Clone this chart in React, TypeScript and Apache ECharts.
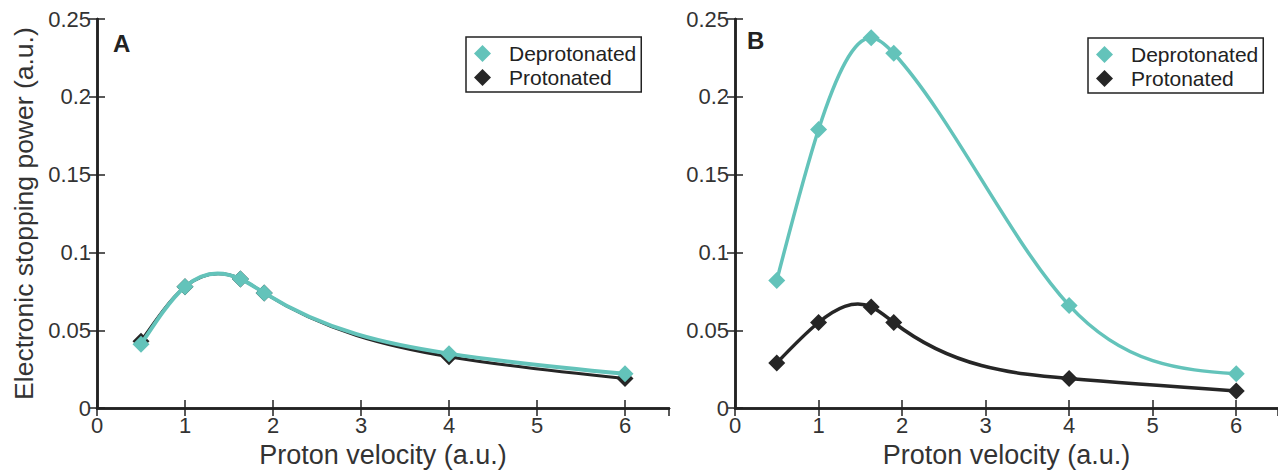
import React, { useEffect, useRef } from "react";
import * as echarts from "echarts";

const velocities = [0.5, 1, 1.63, 1.9, 4, 6];
const aDeprotonated = [0.041, 0.078, 0.083, 0.074, 0.035, 0.022];
const aProtonated = [0.043, 0.078, 0.083, 0.074, 0.033, 0.019];
const bDeprotonated = [0.082, 0.179, 0.238, 0.228, 0.066, 0.022];
const bProtonated = [0.029, 0.055, 0.065, 0.055, 0.019, 0.011];
const seriesNames = ["Deprotonated", "Protonated"];
const panelLabels = ["A", "B"];

const TEAL = "#63c3ba";
const DARK = "#262626";
const FONT = "'Liberation Sans', Arial, Helvetica, sans-serif";

const pairs = (ys: number[]) => velocities.map((x, i) => [x, ys[i]]);

// natural cubic spline second derivatives, used to draw the smooth curve through the data points
function splineM(xs: number[], ys: number[]) {
  const n = xs.length;
  const M = new Array(n).fill(0);
  if (n < 3) return M;
  const a: number[] = [], b: number[] = [], c: number[] = [], d: number[] = [];
  for (let i = 1; i < n - 1; i++) {
    const h0 = xs[i] - xs[i - 1], h1 = xs[i + 1] - xs[i];
    a.push(h0); b.push(2 * (h0 + h1)); c.push(h1);
    d.push(6 * ((ys[i + 1] - ys[i]) / h1 - (ys[i] - ys[i - 1]) / h0));
  }
  const m = b.length;
  for (let i = 1; i < m; i++) {
    const w = a[i] / b[i - 1];
    b[i] -= w * c[i - 1];
    d[i] -= w * d[i - 1];
  }
  const sol = new Array(m).fill(0);
  sol[m - 1] = d[m - 1] / b[m - 1];
  for (let i = m - 2; i >= 0; i--) sol[i] = (d[i] - c[i] * sol[i + 1]) / b[i];
  for (let i = 0; i < m; i++) M[i + 1] = sol[i];
  return M;
}

export default function App() {
  const ref = useRef<HTMLDivElement>(null);
  useEffect(() => {
    if (!ref.current) return;
    const chart = echarts.init(ref.current, null, { renderer: "svg" });

    const axisLine = { show: true, lineStyle: { color: "#222", width: 2.5 } };
    const axisTick = { show: true, inside: true, length: 8, lineStyle: { color: "#222", width: 1.5 } };
    const tickLabel = { fontSize: 22, color: "#333", fontFamily: FONT };

    const xAxes: any[] = [];
    const yAxes: any[] = [];
    [0, 1].forEach((g) => {
      xAxes.push({
        gridIndex: g, type: "value", min: 0, max: 6.5, interval: 1, position: "bottom",
        axisLine, axisTick, splitLine: { show: false },
        axisLabel: { ...tickLabel, margin: 6, showMaxLabel: false },
        name: "Proton velocity (a.u.)", nameLocation: "middle", nameGap: 32,
        nameTextStyle: { fontSize: 27, color: "#333", fontFamily: FONT },
      });
      xAxes.push({
        gridIndex: g, type: "value", min: 0, max: 6.5, interval: 1, position: "top",
        axisLine, axisTick, splitLine: { show: false }, axisLabel: { show: false },
      });
      yAxes.push({
        gridIndex: g, type: "value", min: 0, max: 0.25, interval: 0.05, position: "left",
        axisLine, axisTick, splitLine: { show: false },
        axisLabel: { ...tickLabel, margin: 6 },
        name: g === 0 ? "Electronic stopping power (a.u.)" : "",
        nameLocation: "middle", nameGap: 60,
        nameTextStyle: { fontSize: 26.5, color: "#333", fontFamily: FONT },
      });
      yAxes.push({
        gridIndex: g, type: "value", min: 0, max: 0.25, interval: 0.05, position: "right",
        axisLine, axisTick, splitLine: { show: false }, axisLabel: { show: false },
      });
    });

    const curve = (ys: number[], g: number, color: string, width: number, z: number) => {
      const M = splineM(velocities, ys);
      return {
        type: "custom", coordinateSystem: "cartesian2d", xAxisIndex: g * 2, yAxisIndex: g * 2,
        data: pairs(ys), encode: { x: 0, y: 1 }, silent: true, z, clip: true,
        renderItem: (params: any, api: any) => {
          const i = params.dataIndex;
          if (i >= velocities.length - 1) return { type: "group", children: [] };
          const x0 = velocities[i], x1 = velocities[i + 1];
          const y0 = ys[i], y1 = ys[i + 1];
          const h = x1 - x0;
          const s = (y1 - y0) / h;
          const d0 = s - (h * (2 * M[i] + M[i + 1])) / 6;
          const d1 = s + (h * (M[i] + 2 * M[i + 1])) / 6;
          const p0 = api.coord([x0, y0]);
          const p1 = api.coord([x1, y1]);
          const c1 = api.coord([x0 + h / 3, y0 + (h * d0) / 3]);
          const c2 = api.coord([x1 - h / 3, y1 - (h * d1) / 3]);
          return {
            type: "bezierCurve",
            shape: { x1: p0[0], y1: p0[1], x2: p1[0], y2: p1[1], cpx1: c1[0], cpy1: c1[1], cpx2: c2[0], cpy2: c2[1] },
            style: { stroke: color, lineWidth: width, fill: "none", lineCap: "round" },
          };
        },
      };
    };

    const markers = (name: string, ys: number[], g: number, color: string, z: number) => ({
      name, type: "scatter", xAxisIndex: g * 2, yAxisIndex: g * 2,
      data: pairs(ys), symbol: "diamond", symbolSize: 17, z,
      itemStyle: { color, opacity: 1 },
    });

    const legendBase = {
      orient: "vertical", icon: "diamond", itemWidth: 17, itemHeight: 17, itemGap: 3,
      data: seriesNames, borderColor: "#222", borderWidth: 1.5, backgroundColor: "#fff",
      textStyle: { fontSize: 21, lineHeight: 21, color: "#222", fontFamily: FONT, padding: [0, 0, 0, 13] },
      selectedMode: false,
    };

    chart.setOption({
      animation: false,
      backgroundColor: "#fff",
      grid: [
        { left: 97, top: 19, width: 572, height: 393 },
        { left: 735, top: 19, width: 550, height: 393 },
      ],
      xAxis: xAxes,
      yAxis: yAxes,
      legend: [
        { ...legendBase, left: 466, top: 37, padding: [6, 5, 4, 8] },
        { ...legendBase, left: 1088, top: 38, padding: [6, 5, 4, 8] },
      ],
      graphic: [
        { type: "text", left: 113, top: 31, style: { text: panelLabels[0], font: `bold 24px ${FONT}`, fill: "#222" } },
        { type: "text", left: 747, top: 28, style: { text: panelLabels[1], font: `bold 24px ${FONT}`, fill: "#222" } },
      ],
      series: [
        curve(aProtonated, 0, DARK, 3, 1),
        markers(seriesNames[1], aProtonated, 0, DARK, 2),
        curve(aDeprotonated, 0, TEAL, 4, 3),
        markers(seriesNames[0], aDeprotonated, 0, TEAL, 4),
        curve(bProtonated, 1, DARK, 3.5, 1),
        markers(seriesNames[1], bProtonated, 1, DARK, 2),
        curve(bDeprotonated, 1, TEAL, 3.5, 3),
        markers(seriesNames[0], bDeprotonated, 1, TEAL, 4),
      ],
    });
    return () => chart.dispose();
  }, []);
  return <div ref={ref} style={{ position: "fixed", left: 0, top: 0, width: 1278, height: 473 }} />;
}
